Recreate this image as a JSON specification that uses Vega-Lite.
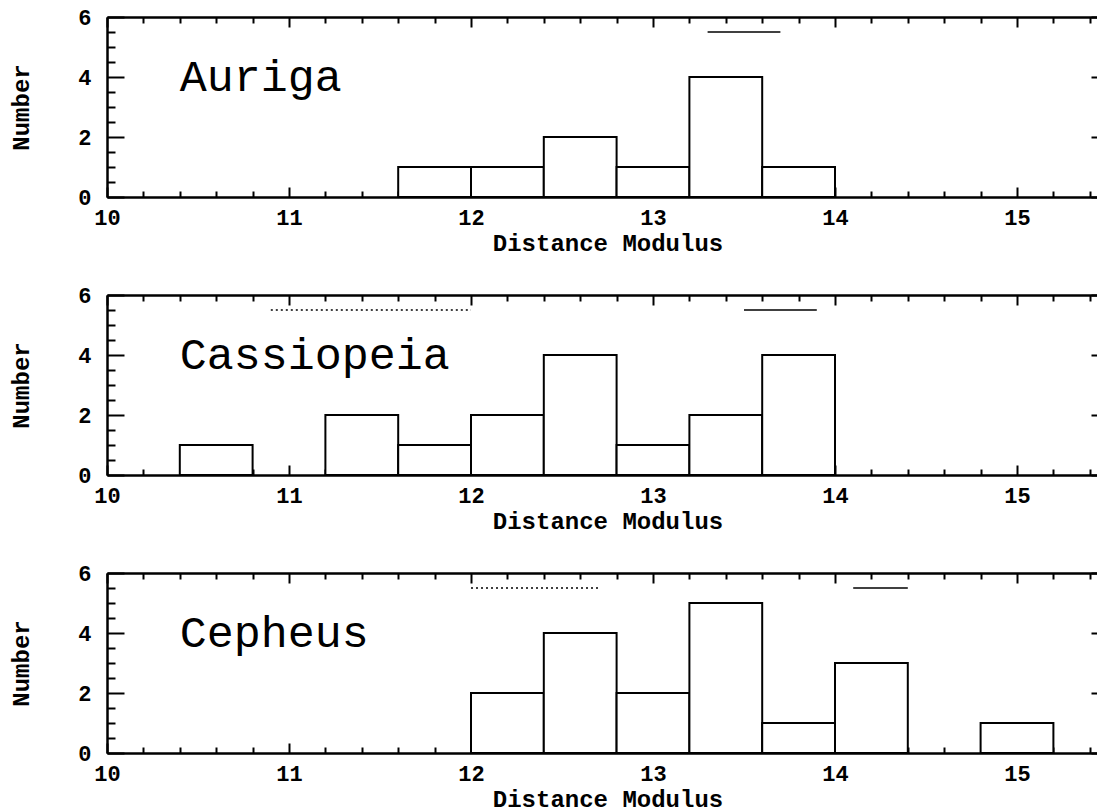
{
  "$schema": "https://vega.github.io/schema/vega-lite/v6.json",
  "autosize": {"type": "pad"},
  "padding": {"left": 9, "top": 6, "right": 0, "bottom": 0},
  "background": "white",
  "datasets": {
    "bars": [
      {"panel": "Auriga", "lo": 11.6, "hi": 12.0, "n": 1},
      {"panel": "Auriga", "lo": 12.0, "hi": 12.4, "n": 1},
      {"panel": "Auriga", "lo": 12.4, "hi": 12.8, "n": 2},
      {"panel": "Auriga", "lo": 12.8, "hi": 13.2, "n": 1},
      {"panel": "Auriga", "lo": 13.2, "hi": 13.6, "n": 4},
      {"panel": "Auriga", "lo": 13.6, "hi": 14.0, "n": 1},
      {"panel": "Cassiopeia", "lo": 10.4, "hi": 10.8, "n": 1},
      {"panel": "Cassiopeia", "lo": 11.2, "hi": 11.6, "n": 2},
      {"panel": "Cassiopeia", "lo": 11.6, "hi": 12.0, "n": 1},
      {"panel": "Cassiopeia", "lo": 12.0, "hi": 12.4, "n": 2},
      {"panel": "Cassiopeia", "lo": 12.4, "hi": 12.8, "n": 4},
      {"panel": "Cassiopeia", "lo": 12.8, "hi": 13.2, "n": 1},
      {"panel": "Cassiopeia", "lo": 13.2, "hi": 13.6, "n": 2},
      {"panel": "Cassiopeia", "lo": 13.6, "hi": 14.0, "n": 4},
      {"panel": "Cepheus", "lo": 12.0, "hi": 12.4, "n": 2},
      {"panel": "Cepheus", "lo": 12.4, "hi": 12.8, "n": 4},
      {"panel": "Cepheus", "lo": 12.8, "hi": 13.2, "n": 2},
      {"panel": "Cepheus", "lo": 13.2, "hi": 13.6, "n": 5},
      {"panel": "Cepheus", "lo": 13.6, "hi": 14.0, "n": 1},
      {"panel": "Cepheus", "lo": 14.0, "hi": 14.4, "n": 3},
      {"panel": "Cepheus", "lo": 14.8, "hi": 15.2, "n": 1}
    ],
    "segs": [
      {"panel": "Auriga", "lo": 13.3, "hi": 13.7, "kind": "solid"},
      {"panel": "Cassiopeia", "lo": 10.9, "hi": 12.0, "kind": "dotted"},
      {"panel": "Cassiopeia", "lo": 13.5, "hi": 13.9, "kind": "solid"},
      {"panel": "Cepheus", "lo": 12.0, "hi": 12.7, "kind": "dotted"},
      {"panel": "Cepheus", "lo": 14.1, "hi": 14.4, "kind": "solid"}
    ],
    "names": [
      {"panel": "Auriga", "name": "Auriga"},
      {"panel": "Cassiopeia", "name": "Cassiopeia"},
      {"panel": "Cepheus", "name": "Cepheus"}
    ]
  },
  "spacing": 98,
  "bounds": "flush",
  "vconcat": [
    {
      "width": 1001, "height": 180,
      "layer": [
        {
          "data": {"name": "bars"},
          "transform": [{"filter": "datum.panel === 'Auriga'"}],
          "mark": {"type": "rect", "fill": "white", "stroke": "black", "strokeWidth": 2},
          "encoding": {
            "x": {"field": "lo", "type": "quantitative", "scale": {"domain": [10, 15.5], "nice": false, "zero": false},
              "axis": {"orient": "bottom", "values": [10,11,12,13,14,15], "format": "d", "tickSize": -10, "labelPadding": 20, "labelFlush": false,
                "title": "Distance Modulus", "titlePadding": 3}},
            "x2": {"field": "hi"},
            "y": {"field": "n", "type": "quantitative", "scale": {"domain": [0, 6], "nice": false, "zero": true},
              "axis": {"orient": "left", "values": [0,2,4,6], "format": "d", "tickSize": -17, "labelPadding": 33, "labelFlush": false,
                "title": "Number", "titlePadding": 44}},
            "y2": {"datum": 0}
          }
        },
        {
          "data": {"name": "segs"},
          "transform": [{"filter": "datum.panel === 'Auriga' && datum.kind === 'solid'"}],
          "mark": {"type": "rule", "stroke": "black", "strokeWidth": 1.5},
          "encoding": {
            "x": {"field": "lo", "type": "quantitative",
              "axis": {"orient": "top", "values": [10,11,12,13,14,15], "tickSize": -10, "labels": false, "title": null}},
            "x2": {"field": "hi"},
            "y": {"datum": 5.5, "type": "quantitative",
              "axis": {"orient": "right", "values": [0,2,4,6], "tickSize": -17, "labels": false, "title": null}}
          }
        },
        {
          "data": {"name": "segs"},
          "transform": [{"filter": "datum.panel === 'Auriga' && datum.kind === 'dotted'"}],
          "mark": {"type": "rule", "stroke": "black", "strokeWidth": 1.5, "strokeDash": [2, 3]},
          "encoding": {
            "x": {"field": "lo", "type": "quantitative",
              "axis": {"orient": "top", "values": [10.2,10.4,10.6,10.8,11.2,11.4,11.6,11.8,12.2,12.4,12.6,12.8,13.2,13.4,13.6,13.8,14.2,14.4,14.6,14.8,15.2,15.4], "tickSize": -6, "labels": false, "title": null}},
            "x2": {"field": "hi"},
            "y": {"datum": 5.5, "type": "quantitative",
              "axis": {"orient": "right", "values": [0.5,1,1.5,2.5,3,3.5,4.5,5,5.5], "tickSize": -8, "labels": false, "title": null}}
          }
        },
        {
          "data": {"name": "names"},
          "transform": [{"filter": "datum.panel === 'Auriga'"}],
          "mark": {"type": "text", "font": "Liberation Mono", "fontSize": 45, "align": "left", "baseline": "alphabetic", "color": "black"},
          "encoding": {
            "x": {"datum": 10.4, "type": "quantitative",
              "axis": {"orient": "bottom", "values": [10.2,10.4,10.6,10.8,11.2,11.4,11.6,11.8,12.2,12.4,12.6,12.8,13.2,13.4,13.6,13.8,14.2,14.4,14.6,14.8,15.2,15.4], "tickSize": -6, "labels": false, "title": null}},
            "y": {"datum": 3.55, "type": "quantitative",
              "axis": {"orient": "left", "values": [0.5,1,1.5,2.5,3,3.5,4.5,5,5.5], "tickSize": -8, "labels": false, "title": null}},
            "text": {"field": "name"}
          }
        }
      ],
      "resolve": {"axis": {"x": "independent", "y": "independent"}}
    },
    {
      "width": 1001, "height": 180,
      "layer": [
        {
          "data": {"name": "bars"},
          "transform": [{"filter": "datum.panel === 'Cassiopeia'"}],
          "mark": {"type": "rect", "fill": "white", "stroke": "black", "strokeWidth": 2},
          "encoding": {
            "x": {"field": "lo", "type": "quantitative", "scale": {"domain": [10, 15.5], "nice": false, "zero": false},
              "axis": {"orient": "bottom", "values": [10,11,12,13,14,15], "format": "d", "tickSize": -10, "labelPadding": 20, "labelFlush": false,
                "title": "Distance Modulus", "titlePadding": 3}},
            "x2": {"field": "hi"},
            "y": {"field": "n", "type": "quantitative", "scale": {"domain": [0, 6], "nice": false, "zero": true},
              "axis": {"orient": "left", "values": [0,2,4,6], "format": "d", "tickSize": -17, "labelPadding": 33, "labelFlush": false,
                "title": "Number", "titlePadding": 44}},
            "y2": {"datum": 0}
          }
        },
        {
          "data": {"name": "segs"},
          "transform": [{"filter": "datum.panel === 'Cassiopeia' && datum.kind === 'solid'"}],
          "mark": {"type": "rule", "stroke": "black", "strokeWidth": 1.5},
          "encoding": {
            "x": {"field": "lo", "type": "quantitative",
              "axis": {"orient": "top", "values": [10,11,12,13,14,15], "tickSize": -10, "labels": false, "title": null}},
            "x2": {"field": "hi"},
            "y": {"datum": 5.5, "type": "quantitative",
              "axis": {"orient": "right", "values": [0,2,4,6], "tickSize": -17, "labels": false, "title": null}}
          }
        },
        {
          "data": {"name": "segs"},
          "transform": [{"filter": "datum.panel === 'Cassiopeia' && datum.kind === 'dotted'"}],
          "mark": {"type": "rule", "stroke": "black", "strokeWidth": 1.5, "strokeDash": [2, 3]},
          "encoding": {
            "x": {"field": "lo", "type": "quantitative",
              "axis": {"orient": "top", "values": [10.2,10.4,10.6,10.8,11.2,11.4,11.6,11.8,12.2,12.4,12.6,12.8,13.2,13.4,13.6,13.8,14.2,14.4,14.6,14.8,15.2,15.4], "tickSize": -6, "labels": false, "title": null}},
            "x2": {"field": "hi"},
            "y": {"datum": 5.5, "type": "quantitative",
              "axis": {"orient": "right", "values": [0.5,1,1.5,2.5,3,3.5,4.5,5,5.5], "tickSize": -8, "labels": false, "title": null}}
          }
        },
        {
          "data": {"name": "names"},
          "transform": [{"filter": "datum.panel === 'Cassiopeia'"}],
          "mark": {"type": "text", "font": "Liberation Mono", "fontSize": 45, "align": "left", "baseline": "alphabetic", "color": "black"},
          "encoding": {
            "x": {"datum": 10.4, "type": "quantitative",
              "axis": {"orient": "bottom", "values": [10.2,10.4,10.6,10.8,11.2,11.4,11.6,11.8,12.2,12.4,12.6,12.8,13.2,13.4,13.6,13.8,14.2,14.4,14.6,14.8,15.2,15.4], "tickSize": -6, "labels": false, "title": null}},
            "y": {"datum": 3.55, "type": "quantitative",
              "axis": {"orient": "left", "values": [0.5,1,1.5,2.5,3,3.5,4.5,5,5.5], "tickSize": -8, "labels": false, "title": null}},
            "text": {"field": "name"}
          }
        }
      ],
      "resolve": {"axis": {"x": "independent", "y": "independent"}}
    },
    {
      "width": 1001, "height": 180,
      "layer": [
        {
          "data": {"name": "bars"},
          "transform": [{"filter": "datum.panel === 'Cepheus'"}],
          "mark": {"type": "rect", "fill": "white", "stroke": "black", "strokeWidth": 2},
          "encoding": {
            "x": {"field": "lo", "type": "quantitative", "scale": {"domain": [10, 15.5], "nice": false, "zero": false},
              "axis": {"orient": "bottom", "values": [10,11,12,13,14,15], "format": "d", "tickSize": -10, "labelPadding": 20, "labelFlush": false,
                "title": "Distance Modulus", "titlePadding": 3}},
            "x2": {"field": "hi"},
            "y": {"field": "n", "type": "quantitative", "scale": {"domain": [0, 6], "nice": false, "zero": true},
              "axis": {"orient": "left", "values": [0,2,4,6], "format": "d", "tickSize": -17, "labelPadding": 33, "labelFlush": false,
                "title": "Number", "titlePadding": 44}},
            "y2": {"datum": 0}
          }
        },
        {
          "data": {"name": "segs"},
          "transform": [{"filter": "datum.panel === 'Cepheus' && datum.kind === 'solid'"}],
          "mark": {"type": "rule", "stroke": "black", "strokeWidth": 1.5},
          "encoding": {
            "x": {"field": "lo", "type": "quantitative",
              "axis": {"orient": "top", "values": [10,11,12,13,14,15], "tickSize": -10, "labels": false, "title": null}},
            "x2": {"field": "hi"},
            "y": {"datum": 5.5, "type": "quantitative",
              "axis": {"orient": "right", "values": [0,2,4,6], "tickSize": -17, "labels": false, "title": null}}
          }
        },
        {
          "data": {"name": "segs"},
          "transform": [{"filter": "datum.panel === 'Cepheus' && datum.kind === 'dotted'"}],
          "mark": {"type": "rule", "stroke": "black", "strokeWidth": 1.5, "strokeDash": [2, 3]},
          "encoding": {
            "x": {"field": "lo", "type": "quantitative",
              "axis": {"orient": "top", "values": [10.2,10.4,10.6,10.8,11.2,11.4,11.6,11.8,12.2,12.4,12.6,12.8,13.2,13.4,13.6,13.8,14.2,14.4,14.6,14.8,15.2,15.4], "tickSize": -6, "labels": false, "title": null}},
            "x2": {"field": "hi"},
            "y": {"datum": 5.5, "type": "quantitative",
              "axis": {"orient": "right", "values": [0.5,1,1.5,2.5,3,3.5,4.5,5,5.5], "tickSize": -8, "labels": false, "title": null}}
          }
        },
        {
          "data": {"name": "names"},
          "transform": [{"filter": "datum.panel === 'Cepheus'"}],
          "mark": {"type": "text", "font": "Liberation Mono", "fontSize": 45, "align": "left", "baseline": "alphabetic", "color": "black"},
          "encoding": {
            "x": {"datum": 10.4, "type": "quantitative",
              "axis": {"orient": "bottom", "values": [10.2,10.4,10.6,10.8,11.2,11.4,11.6,11.8,12.2,12.4,12.6,12.8,13.2,13.4,13.6,13.8,14.2,14.4,14.6,14.8,15.2,15.4], "tickSize": -6, "labels": false, "title": null}},
            "y": {"datum": 3.55, "type": "quantitative",
              "axis": {"orient": "left", "values": [0.5,1,1.5,2.5,3,3.5,4.5,5,5.5], "tickSize": -8, "labels": false, "title": null}},
            "text": {"field": "name"}
          }
        }
      ],
      "resolve": {"axis": {"x": "independent", "y": "independent"}}
    }
  ],
  "config": {
    "view": {"stroke": null},
    "axis": {
      "grid": false,
      "domainColor": "black", "domainWidth": 2,
      "tickColor": "black", "tickWidth": 2,
      "labelFont": "Liberation Mono", "labelFontWeight": "bold", "labelFontSize": 22, "labelColor": "black",
      "titleFont": "Liberation Mono", "titleFontWeight": "bold", "titleFontSize": 24, "titleColor": "black"
    }
  }
}
